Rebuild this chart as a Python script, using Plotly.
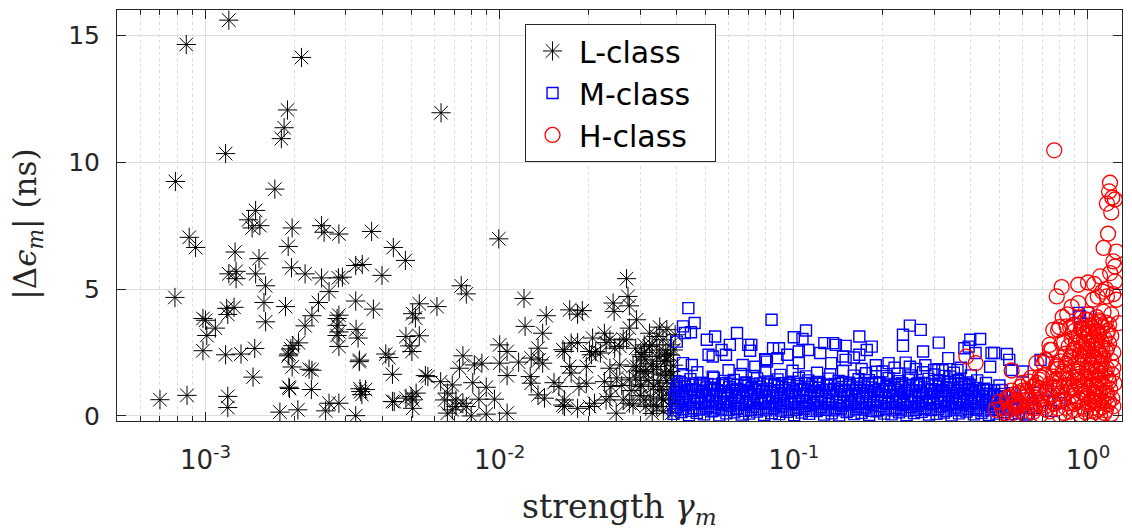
import plotly.graph_objects as go

# ---------------- data ----------------
L_points = [
    (1.2e-3, 15.6), (8.6e-4, 14.64), (2.12e-3, 14.13), (1.9e-3, 12.06), (1.85e-3, 11.36), (1.81e-3, 10.93),
    (1.17e-3, 10.34), (7.9e-4, 9.24), (1.72e-3, 8.94), (8.8e-4, 7.04), (9.25e-4, 6.64), (1.48e-3, 8.1),
    (1.4e-3, 7.73), (1.44e-3, 7.41), (1.53e-3, 7.5), (1.97e-3, 7.41), (1.91e-3, 6.68), (1.26e-3, 6.46),
    (1.52e-3, 6.2), (1.96e-3, 5.84), (1.2e-3, 5.6), (1.27e-3, 5.7), (1.27e-3, 5.41), (1.48e-3, 5.6),
    (1.6e-3, 5.13), (2.18e-3, 5.6), (2.48e-3, 5.44), (2.63e-3, 4.9), (2.83e-3, 5.44), (2.92e-3, 5.47),
    (2.48e-3, 7.5), (2.53e-3, 7.24), (2.84e-3, 7.17), (3.67e-3, 7.27), (3.24e-3, 5.93), (3.41e-3, 5.97),
    (3.98e-3, 5.54), (4.35e-3, 6.64), (7.87e-4, 4.67), (9.8e-4, 3.84), (1.0e-3, 3.77), (1.08e-3, 3.46),
    (1.01e-3, 3.17), (9.8e-4, 2.57), (1.17e-3, 2.41), (1.32e-3, 2.44), (1.47e-3, 2.66), (1.18e-3, 4.24),
    (1.25e-3, 4.28), (1.19e-3, 4.0), (1.58e-3, 4.47), (1.6e-3, 3.71), (1.87e-3, 4.31), (2.42e-3, 4.47),
    (2.3e-3, 3.95), (2.18e-3, 3.55), (1.45e-3, 1.53), (7.0e-4, 0.64), (8.65e-4, 0.81), (1.19e-3, 0.77),
    (1.19e-3, 0.33), (1.95e-3, 2.64), (1.98e-3, 2.77), (2.07e-3, 2.88), (1.91e-3, 2.37), (1.92e-3, 2.44),
    (1.97e-3, 1.93), (2.25e-3, 1.84), (2.3e-3, 1.8), (1.92e-3, 1.13), (1.93e-3, 1.08), (2.29e-3, 1.04),
    (1.79e-3, 0.15), (2.06e-3, 0.24), (2.56e-3, 0.2), (2.63e-3, 0.5), (2.84e-3, 0.5), (3.24e-3, 0.01),
    (2.8e-3, 3.84), (2.84e-3, 3.97), (2.8e-3, 3.57), (2.84e-3, 3.31), (2.8e-3, 3.17), (2.84e-3, 2.74),
    (3.24e-3, 4.53), (3.72e-3, 4.21), (3.25e-3, 3.41), (3.3e-3, 3.07), (3.34e-3, 2.2), (3.35e-3, 1.07),
    (3.4e-3, 0.84), (3.5e-3, 1.04), (4.1e-3, 2.44), (4.32e-3, 1.64), (4.32e-3, 0.57), (4.2e-3, 2.3),
    (4.78e-3, 6.13), (5.33e-3, 4.42), (6.12e-3, 4.31), (5.06e-3, 4.03), (5.17e-3, 3.86), (4.8e-3, 3.13),
    (5.33e-3, 3.16), (4.95e-3, 2.76), (5.03e-3, 2.54), (5.59e-3, 1.59), (5.7e-3, 1.55), (6.3e-3, 1.35),
    (6.9e-3, 1.22), (7.4e-3, 5.13), (7.7e-3, 4.81), (7.5e-3, 2.37), (7.3e-3, 1.88), (6.64e-3, 0.9),
    (6.5e-3, 0.63), (6.64e-3, 0.11), (6.9e-3, 0.24), (7.5e-3, 0.5), (7.1e-3, 0.63), (5.06e-3, 0.63),
    (5.2e-3, 0.9), (5.0e-3, 0.76), (4.38e-3, 0.56), (4.8e-3, 0.7), (5.06e-3, 0.3), (7.7e-3, 0.37),
    (3.33e-3, 2.14), (3.37e-3, 0.96), (6.32e-3, 11.95),
    (9.93e-3, 6.98), (1.21e-2, 4.63), (1.22e-2, 3.53), (1.44e-2, 3.95), (1.4e-2, 3.26), (1.0e-2, 2.8),
    (1.06e-2, 2.54), (1.0e-2, 2.08), (1.06e-2, 1.59), (8.2e-3, 2.01), (8.7e-3, 2.08), (1.16e-2, 2.12),
    (1.28e-2, 2.28), (1.35e-2, 2.67), (1.36e-2, 2.21), (1.4e-2, 2.08), (1.27e-2, 1.55), (1.28e-2, 1.29),
    (1.35e-2, 0.83), (1.42e-2, 0.7), (1.06e-2, 0.11), (9.0e-3, 0.07), (8.0e-3, 0.0), (8.1e-3, 1.31),
    (9.0e-3, 1.13), (9.6e-3, 0.66), (8.5e-3, 0.66), (7.1e-3, 0.37), (1.73e-2, 4.18), (1.84e-2, 4.01),
    (1.91e-2, 4.15), (2.43e-2, 4.45), (2.45e-2, 4.12), (2.7e-2, 5.41), (2.73e-2, 4.71), (2.76e-2, 4.34),
    (2.92e-2, 3.79), (2.76e-2, 3.46), (1.64e-2, 2.61), (1.75e-2, 2.87), (1.84e-2, 2.89), (2.07e-2, 3.07),
    (2.27e-2, 3.26), (2.3e-2, 2.89), (2.12e-2, 2.54), (2.05e-2, 2.41), (1.73e-2, 1.95), (1.75e-2, 1.69),
    (1.97e-2, 1.95), (2.37e-2, 1.88), (2.56e-2, 2.01), (2.56e-2, 2.74), (2.7e-2, 3.0), (1.53e-2, 1.31),
    (1.59e-2, 1.16), (1.86e-2, 1.16), (1.97e-2, 1.29), (2.27e-2, 1.35), (2.39e-2, 1.16), (2.76e-2, 1.42),
    (1.66e-2, 0.63), (1.66e-2, 0.37), (1.84e-2, 0.3), (2.02e-2, 0.37), (2.3e-2, 0.63), (2.49e-2, 0.11),
    (2.76e-2, 0.5), (3.14e-2, 0.37), (3.23e-2, 3.26), (3.42e-2, 3.13), (3.59e-2, 3.0), (3.23e-2, 2.74),
    (3.04e-2, 2.34), (3.67e-2, 2.48), (2.92e-2, 1.95), (3.14e-2, 1.69), (3.42e-2, 1.95), (3.67e-2, 1.69),
    (3.02e-2, 1.16), (3.33e-2, 1.16), (3.59e-2, 1.03), (3.85e-2, 0.63), (3.42e-2, 0.37), (3.85e-2, 0.11),
    (3.81e-2, 2.8), (1.66e-2, 2.54), (2.37e-2, 3.0), (2.63e-2, 3.03), (2.02e-2, 2.54), (2.2e-2, 2.48),
    (2.46e-2, 2.67), (2.9e-2, 2.67), (3.02e-2, 2.41), (3.14e-2, 2.21), (3.42e-2, 2.34), (3.63e-2, 2.14),
    (3.73e-2, 2.41), (2.84e-2, 1.95), (3.09e-2, 1.75), (3.33e-2, 1.82), (3.53e-2, 1.62), (3.81e-2, 1.75),
    (3.02e-2, 1.22), (3.49e-2, 1.03), (3.85e-2, 1.16), (1.64e-2, 0.43), (2.1e-2, 0.5), (2.37e-2, 0.76),
    (2.63e-2, 0.63), (2.84e-2, 0.43), (3.09e-2, 0.63), (3.33e-2, 0.43), (3.59e-2, 0.63), (3.81e-2, 0.37),
    (3.1e-2, 2.5), (3.3e-2, 2.8), (3.5e-2, 2.6), (3.7e-2, 2.2), (3.9e-2, 2.0), (3.2e-2, 1.4),
    (3.45e-2, 1.3), (3.7e-2, 1.4), (3.9e-2, 1.3), (3.0e-2, 0.8), (3.25e-2, 0.75), (3.55e-2, 0.7),
    (3.8e-2, 0.8), (3.95e-2, 0.5), (2.9e-2, 1.5), (2.8e-2, 1.0), (2.6e-2, 1.2), (2.5e-2, 1.5),
    (3.9e-2, 2.6), (3.95e-2, 3.2), (3.7e-2, 3.4), (3.5e-2, 3.5), (3.1e-2, 2.8), (3.0e-2, 1.8),
    (3.85e-2, 1.6), (3.6e-2, 0.2), (3.3e-2, 0.1), (3.95e-2, 0.9), (3.8e-2, 2.4), (3.3e-2, 2.05),
]

M_band_x_a = [0.039, 0.0415, 0.044, 0.0468, 0.0495, 0.0525, 0.0558, 0.059, 0.0627, 0.0665, 0.0705, 0.0748,
              0.0793, 0.0841, 0.0892, 0.0946, 0.1003, 0.1064, 0.1128, 0.1196, 0.1268, 0.1345, 0.1426, 0.1512,
              0.1603, 0.17, 0.1803, 0.1912, 0.2027, 0.215, 0.228, 0.2417, 0.2563, 0.2718, 0.2882, 0.3056,
              0.324, 0.3436, 0.3643, 0.3863, 0.4096, 0.4344, 0.4606, 0.4884, 0.518, 0.549, 0.582, 0.617]
M_band_y_a = [0.08, 0.15, 0.03, 0.12, 0.06, 0.18, 0.02, 0.1, 0.14, 0.05, 0.09, 0.17, 0.04, 0.11, 0.07, 0.16,
              0.03, 0.13, 0.08, 0.19, 0.05, 0.1, 0.02, 0.15, 0.07, 0.12, 0.04, 0.18, 0.09, 0.06, 0.14, 0.03,
              0.11, 0.16, 0.05, 0.08, 0.13, 0.02, 0.1, 0.17, 0.06, 0.12, 0.04, 0.09, 0.15, 0.07, 0.11, 0.05]
M_band_x_a2 = [0.0396, 0.0421, 0.0448, 0.0476, 0.0503, 0.0533, 0.0567, 0.06, 0.0637, 0.0676, 0.0716, 0.0759,
               0.0805, 0.0854, 0.0906, 0.096, 0.1018, 0.108, 0.1145, 0.1214, 0.1288, 0.1365, 0.1447, 0.1535,
               0.1628, 0.1725, 0.183, 0.194, 0.2057, 0.2182, 0.2314, 0.2453, 0.26, 0.2758, 0.2925, 0.31,
               0.329, 0.349, 0.37, 0.392, 0.416, 0.441, 0.467, 0.496, 0.526, 0.558]
M_band_y_a2 = [0.22, 0.27, 0.2, 0.25, 0.29, 0.21, 0.26, 0.23, 0.28, 0.2, 0.24, 0.27, 0.22, 0.29, 0.21, 0.25,
               0.23, 0.28, 0.2, 0.26, 0.24, 0.22, 0.29, 0.21, 0.27, 0.25, 0.2, 0.23, 0.28, 0.22, 0.26, 0.21,
               0.24, 0.29, 0.23, 0.27, 0.2, 0.25, 0.22, 0.28, 0.24, 0.21, 0.26, 0.23, 0.27, 0.22]
M_band_x_b = [0.0402, 0.0428, 0.0455, 0.0482, 0.051, 0.054, 0.0575, 0.0608, 0.0645, 0.0685, 0.0726, 0.077,
              0.0817, 0.0866, 0.0918, 0.0974, 0.1033, 0.1095, 0.1161, 0.1231, 0.1306, 0.1385, 0.1468, 0.1557,
              0.165, 0.175, 0.1856, 0.1968, 0.2087, 0.2213, 0.2346, 0.2488, 0.2638, 0.2797, 0.2966, 0.3145,
              0.3334, 0.3535, 0.3748, 0.3974, 0.4214, 0.4468, 0.4737, 0.5023, 0.533, 0.565, 0.6]
M_band_y_b = [0.35, 0.42, 0.3, 0.47, 0.38, 0.33, 0.45, 0.4, 0.29, 0.44, 0.36, 0.48, 0.31, 0.41, 0.37, 0.46,
              0.32, 0.39, 0.43, 0.34, 0.47, 0.3, 0.4, 0.45, 0.36, 0.33, 0.42, 0.38, 0.48, 0.31, 0.44, 0.35,
              0.4, 0.29, 0.46, 0.37, 0.41, 0.33, 0.45, 0.39, 0.3, 0.43, 0.36, 0.4, 0.34, 0.38, 0.32]
M_band_x_b2 = [0.0404, 0.043, 0.0457, 0.0485, 0.0513, 0.0543, 0.0578, 0.0611, 0.0648, 0.0688, 0.073, 0.0774,
               0.0821, 0.087, 0.0922, 0.0979, 0.1038, 0.11, 0.1167, 0.1237, 0.1312, 0.1392, 0.1475, 0.1565,
               0.1658, 0.1759, 0.1865, 0.1978, 0.2097, 0.2224, 0.2358, 0.25, 0.2651, 0.2811, 0.298, 0.316,
               0.335, 0.355, 0.3765, 0.399, 0.423, 0.449, 0.476, 0.505, 0.535]
M_band_y_b2 = [0.5, 0.54, 0.48, 0.52, 0.55, 0.49, 0.53, 0.51, 0.48, 0.55, 0.5, 0.52, 0.54, 0.49, 0.51,
               0.53, 0.48, 0.55, 0.5, 0.52, 0.49, 0.54, 0.51, 0.53, 0.48, 0.5, 0.55, 0.52, 0.49, 0.54,
               0.51, 0.53, 0.48, 0.5, 0.52, 0.55, 0.49, 0.51, 0.54, 0.48, 0.53, 0.5, 0.52, 0.49, 0.51]
M_band_x_c = [0.0394, 0.042, 0.0445, 0.0473, 0.05, 0.053, 0.0564, 0.0597, 0.0633, 0.0672, 0.0712, 0.0755,
              0.0801, 0.085, 0.0901, 0.0956, 0.1013, 0.1075, 0.114, 0.1208, 0.1281, 0.1358, 0.144, 0.1527,
              0.162, 0.1717, 0.1821, 0.1931, 0.2047, 0.2172, 0.2303, 0.2441, 0.2589, 0.2745, 0.2911, 0.3087,
              0.3272, 0.347, 0.368, 0.39, 0.414, 0.439, 0.465, 0.493, 0.523]
M_band_y_c = [0.6, 0.66, 0.56, 0.7, 0.62, 0.58, 0.68, 0.55, 0.64, 0.71, 0.59, 0.65, 0.57, 0.69, 0.61, 0.67,
              0.55, 0.63, 0.72, 0.58, 0.66, 0.6, 0.7, 0.56, 0.64, 0.68, 0.59, 0.62, 0.71, 0.57, 0.65, 0.6,
              0.69, 0.55, 0.63, 0.67, 0.58, 0.7, 0.61, 0.66, 0.56, 0.64, 0.6, 0.68, 0.58]
M_band_x_c2 = [0.0392, 0.0418, 0.0443, 0.047, 0.0498, 0.0528, 0.0561, 0.0594, 0.063, 0.0669, 0.0709, 0.0752,
               0.0797, 0.0846, 0.0897, 0.0951, 0.1008, 0.107, 0.1134, 0.1202, 0.1275, 0.1352, 0.1433, 0.152,
               0.1612, 0.171, 0.1812, 0.1921, 0.2037, 0.216, 0.229, 0.2428, 0.2575, 0.273, 0.2895, 0.307,
               0.3255, 0.345, 0.366, 0.388, 0.411, 0.436, 0.462, 0.49, 0.52]
M_band_y_c2 = [0.75, 0.78, 0.74, 0.77, 0.79, 0.76, 0.74, 0.78, 0.75, 0.77, 0.79, 0.74, 0.76, 0.78, 0.75,
               0.77, 0.74, 0.79, 0.76, 0.78, 0.75, 0.77, 0.74, 0.79, 0.76, 0.78, 0.75, 0.77, 0.74, 0.79,
               0.76, 0.78, 0.75, 0.77, 0.74, 0.79, 0.76, 0.78, 0.75, 0.77, 0.74, 0.79, 0.76, 0.78, 0.75]
M_band_x_d = [0.0406, 0.0432, 0.046, 0.0487, 0.0515, 0.0546, 0.058, 0.0614, 0.0652, 0.0692, 0.0733, 0.0778,
              0.0825, 0.0875, 0.0927, 0.0984, 0.1043, 0.1106, 0.1173, 0.1243, 0.1319, 0.1399, 0.1483, 0.1573,
              0.1667, 0.1768, 0.1875, 0.1988, 0.2108, 0.2235, 0.237, 0.2513, 0.2664, 0.2825, 0.2996, 0.3176,
              0.3367, 0.357, 0.3785, 0.4014, 0.4256, 0.451, 0.478, 0.507]
M_band_y_d = [0.85, 0.92, 0.8, 0.95, 0.88, 0.83, 0.97, 0.9, 0.81, 0.94, 0.86, 0.96, 0.82, 0.91, 0.87, 0.93,
              0.8, 0.89, 0.95, 0.84, 0.92, 0.86, 0.97, 0.81, 0.9, 0.88, 0.94, 0.83, 0.96, 0.85, 0.91, 0.8,
              0.93, 0.87, 0.89, 0.95, 0.82, 0.9, 0.86, 0.92, 0.84, 0.88, 0.83, 0.87]
M_band_x_d2 = [0.0408, 0.0434, 0.0462, 0.049, 0.0518, 0.0549, 0.0583, 0.0617, 0.0656, 0.0696, 0.0737, 0.0782,
               0.083, 0.088, 0.0932, 0.099, 0.1049, 0.1112, 0.118, 0.125, 0.1326, 0.1407, 0.1491, 0.1582,
               0.1676, 0.1778, 0.1885, 0.1999, 0.212, 0.2248, 0.2383, 0.2527, 0.268, 0.284, 0.301, 0.319,
               0.338, 0.359, 0.38, 0.403, 0.428, 0.454, 0.48, 0.51]
M_band_y_d2 = [1.0, 0.98, 1.02, 0.99, 1.03, 1.01, 0.98, 1.0, 1.02, 0.99, 1.03, 1.0, 0.98, 1.01, 1.02,
               0.99, 1.03, 1.0, 0.98, 1.01, 1.02, 0.99, 1.03, 1.0, 0.98, 1.01, 1.02, 0.99, 1.0, 1.03,
               0.98, 1.01, 1.0, 1.02, 0.99, 1.03, 0.98, 1.01, 1.0, 1.02, 0.99, 1.01, 1.0, 1.02]
M_band_x_e = [0.0398, 0.0424, 0.045, 0.0478, 0.0505, 0.0536, 0.057, 0.0603, 0.064, 0.0679, 0.0719, 0.0763,
              0.0809, 0.0858, 0.091, 0.0965, 0.1023, 0.1085, 0.115, 0.122, 0.1294, 0.1372, 0.1454, 0.1542,
              0.1635, 0.1734, 0.1839, 0.195, 0.2068, 0.2193, 0.2325, 0.2466, 0.2614, 0.2772, 0.294, 0.3117,
              0.3305, 0.3505, 0.3717, 0.394, 0.418, 0.443]
M_band_y_e = [1.1, 1.17, 1.05, 1.2, 1.12, 1.08, 1.22, 1.14, 1.06, 1.19, 1.1, 1.16, 1.07, 1.21, 1.13, 1.09,
              1.18, 1.05, 1.15, 1.11, 1.2, 1.07, 1.14, 1.22, 1.09, 1.16, 1.12, 1.06, 1.19, 1.1, 1.15, 1.08,
              1.21, 1.13, 1.05, 1.17, 1.11, 1.08, 1.14, 1.06, 1.1, 1.07]
M_band_x_e2 = [0.0401, 0.0427, 0.0454, 0.0481, 0.0508, 0.0539, 0.0573, 0.0606, 0.0643, 0.0683, 0.0723, 0.0767,
               0.0813, 0.0862, 0.0914, 0.097, 0.1028, 0.109, 0.1156, 0.1225, 0.13, 0.1378, 0.146, 0.1548,
               0.1642, 0.174, 0.1846, 0.1957, 0.2075, 0.22, 0.2333, 0.2474, 0.2622, 0.278, 0.295, 0.313,
               0.332, 0.352, 0.373, 0.396]
M_band_y_e2 = [1.25, 1.28, 1.23, 1.3, 1.26, 1.24, 1.29, 1.27, 1.23, 1.3, 1.25, 1.28, 1.24, 1.26, 1.29,
               1.23, 1.27, 1.3, 1.25, 1.28, 1.24, 1.26, 1.29, 1.23, 1.27, 1.3, 1.25, 1.28, 1.24, 1.26,
               1.29, 1.23, 1.27, 1.3, 1.25, 1.28, 1.24, 1.26, 1.29, 1.23]
M_band_x_f = [0.041, 0.0445, 0.049, 0.0535, 0.058, 0.0625, 0.069, 0.075, 0.0815, 0.088, 0.096, 0.104, 0.112,
              0.121, 0.131, 0.142, 0.154, 0.166, 0.18, 0.195, 0.21, 0.228, 0.246, 0.266, 0.287, 0.31, 0.335,
              0.362, 0.39]
M_band_y_f = [1.35, 1.45, 1.3, 1.5, 1.38, 1.42, 1.32, 1.48, 1.36, 1.44, 1.3, 1.5, 1.4, 1.34, 1.47, 1.38,
              1.31, 1.45, 1.41, 1.33, 1.49, 1.37, 1.43, 1.3, 1.46, 1.39, 1.34, 1.42, 1.32]
M_band_x_g = [0.042, 0.047, 0.053, 0.06, 0.066, 0.073, 0.08, 0.09, 0.099, 0.11, 0.12, 0.133, 0.147, 0.16,
              0.176, 0.19, 0.207, 0.225, 0.25, 0.275, 0.3, 0.325]
M_band_y_g = [1.6, 1.72, 1.55, 1.8, 1.65, 1.58, 1.75, 1.62, 1.78, 1.56, 1.7, 1.64, 1.77, 1.59, 1.68, 1.74,
              1.57, 1.66, 1.6, 1.72, 1.63, 1.58]
M_scatter = [
    (0.0438, 4.25), (0.046, 3.66), (0.042, 3.53), (0.0447, 3.3), (0.0426, 3.27), (0.040, 2.93), (0.0506, 3.0),
    (0.054, 3.13), (0.0641, 3.27), (0.0606, 2.8), (0.070, 2.8), (0.0513, 2.41), (0.0568, 2.6), (0.084, 3.79),
    (0.0717, 2.8), (0.071, 2.57), (0.0588, 2.41), (0.080, 2.24), (0.089, 2.67), (0.10, 3.1), (0.11, 3.37),
    (0.107, 3.03), (0.095, 2.41), (0.104, 2.54), (0.112, 2.6), (0.127, 2.87), (0.136, 2.87), (0.139, 2.8),
    (0.15, 2.76), (0.167, 3.13), (0.184, 2.73), (0.167, 2.41), (0.177, 2.6), (0.123, 2.48), (0.147, 2.34),
    (0.085, 2.67), (0.088, 2.28), (0.081, 2.14), (0.042, 2.08), (0.045, 2.01), (0.053, 2.34), (0.067, 2.01),
    (0.074, 1.94), (0.248, 3.56), (0.27, 3.39), (0.235, 3.2), (0.235, 2.76), (0.311, 2.89), (0.275, 2.54),
    (0.335, 2.28), (0.38, 2.67), (0.43, 3.03), (0.47, 2.48), (0.415, 2.48), (0.30, 1.81), (0.31, 1.84),
    (0.248, 1.94), (0.21, 2.08), (0.15, 2.21), (0.134, 2.08), (0.104, 2.08), (0.08, 2.21), (0.34, 1.55),
    (0.36, 1.81), (0.398, 3.0), (0.393, 2.73), (0.48, 2.48), (0.53, 2.44), (0.54, 2.21), (0.55, 1.81),
    (0.60, 1.75), (0.465, 1.94), (0.94, 3.92), (0.69, 2.21), (0.93, 4.06), (1.0, 4.06),
    (0.65, 0.3), (0.7, 0.6), (0.75, 0.2), (0.8, 0.5), (0.66, 0.9), (0.72, 1.0), (0.45, 1.3), (0.5, 1.2),
    (0.42, 1.4), (0.38, 1.25), (0.55, 0.9), (0.6, 0.4), (0.63, 0.1), (0.57, 0.7),
    (0.19, 2.0), (0.2, 1.75), (0.22, 1.9), (0.24, 2.1), (0.26, 1.85), (0.28, 2.0), (0.17, 1.85), (0.16, 2.3),
    (0.32, 1.8), (0.35, 1.7), (0.37, 1.9), (0.4, 1.6),
]

H_points = [
    (0.768, 10.47), (1.188, 9.19), (1.18, 8.85), (1.21, 8.6), (1.16, 8.37), (1.2, 8.02), (1.235, 8.53),
    (1.17, 7.18), (1.13, 6.62), (1.25, 6.48), (1.22, 6.09), (1.235, 5.89), (0.814, 5.08), (0.783, 4.71),
    (0.927, 5.17), (1.0, 5.26), (1.1, 5.5), (1.19, 5.63), (1.235, 5.3), (0.927, 4.45), (1.04, 4.58),
    (1.16, 4.71), (1.25, 4.58), (0.792, 3.39), (0.846, 3.53), (0.964, 3.39), (1.27, 3.66), (0.742, 2.6),
    (0.714, 2.21), (0.668, 2.08), (0.386, 2.34), (0.415, 2.08), (0.55, 1.79), (0.54, 0.74), (0.486, 0.24),
    (0.587, 0.5), (0.618, 0.9), (0.65, 1.15), (0.686, 1.55), (0.535, 0.7), (0.565, 0.36), (0.587, 0.43),
    (0.618, 0.63), (0.686, 1.42), (0.705, 2.08), (0.752, 2.6), (0.762, 3.39), (0.814, 2.87), (0.783, 1.94),
    (0.803, 1.15), (0.762, 0.5), (0.66, 0.3),
    (1.05, 5.2), (1.12, 4.9), (1.08, 4.7), (1.15, 5.0), (1.22, 4.8), (1.13, 4.1), (1.2, 4.0), (1.07, 3.9),
    (0.98, 3.8), (1.0, 4.0), (1.1, 3.7), (1.18, 3.6), (0.9, 3.6), (0.87, 3.5), (0.95, 3.4),
    (0.51, 0.3), (0.53, 0.7), (0.56, 0.5), (0.58, 0.9), (0.6, 0.2), (0.62, 1.0), (0.63, 0.6), (0.65, 0.15),
    (0.66, 1.2), (0.67, 0.5), (0.55, 1.0), (0.6, 1.3), (0.64, 1.5), (0.57, 0.05), (0.69, 0.4), (0.68, 0.9),
    (0.7, 1.5), (0.72, 2.2), (0.74, 2.8), (0.76, 1.1), (0.78, 2.0), (0.8, 3.5), (0.83, 2.9), (0.85, 4.0),
    (0.88, 4.3), (0.82, 3.9),
]
H_dense = [
    (0.69, 0.05), (0.74, 0.18), (0.80, 0.04), (0.87, 0.17), (0.94, 0.06), (0.98, 0.15), (1.02, 0.03),
    (1.06, 0.16), (1.1, 0.05), (1.14, 0.12), (1.2, 0.08), (0.52, 0.1), (0.61, 0.06),
    (0.71, 0.35), (0.77, 0.48), (0.84, 0.33), (0.9, 0.47), (0.96, 0.36), (1.0, 0.45), (1.04, 0.32),
    (1.08, 0.49), (1.12, 0.34), (1.17, 0.46), (1.22, 0.38), (0.55, 0.28), (0.64, 0.33),
    (0.69, 0.65), (0.75, 0.78), (0.82, 0.62), (0.88, 0.77), (0.93, 0.64), (0.99, 0.79), (1.03, 0.63),
    (1.07, 0.76), (1.11, 0.61), (1.16, 0.75), (1.21, 0.68), (0.57, 0.6), (0.66, 0.72),
    (0.72, 0.95), (0.78, 1.08), (0.85, 0.93), (0.91, 1.07), (0.95, 0.96), (1.01, 1.09), (1.05, 0.92),
    (1.09, 1.06), (1.13, 0.94), (1.19, 1.05), (0.6, 1.0), (0.68, 1.1),
    (0.74, 1.25), (0.8, 1.38), (0.86, 1.22), (0.92, 1.37), (0.97, 1.24), (1.0, 1.36), (1.04, 1.21),
    (1.08, 1.39), (1.12, 1.26), (1.18, 1.35), (1.23, 1.28), (0.67, 1.3),
    (0.76, 1.55), (0.83, 1.68), (0.89, 1.52), (0.94, 1.67), (0.98, 1.54), (1.02, 1.69), (1.06, 1.53),
    (1.1, 1.66), (1.15, 1.56), (1.21, 1.64), (0.71, 1.6),
    (0.79, 1.85), (0.85, 1.98), (0.9, 1.82), (0.95, 1.97), (0.99, 1.84), (1.03, 1.99), (1.07, 1.83),
    (1.11, 1.96), (1.16, 1.87), (1.22, 1.9),
    (0.81, 2.15), (0.87, 2.28), (0.92, 2.12), (0.96, 2.27), (1.0, 2.14), (1.05, 2.29), (1.09, 2.13),
    (1.13, 2.26), (1.2, 2.18),
    (0.84, 2.45), (0.89, 2.58), (0.94, 2.42), (0.98, 2.57), (1.02, 2.44), (1.06, 2.59), (1.1, 2.43),
    (1.15, 2.56), (1.22, 2.5),
    (0.86, 2.75), (0.91, 2.88), (0.95, 2.72), (0.99, 2.87), (1.03, 2.74), (1.07, 2.89), (1.12, 2.73),
    (1.18, 2.85),
    (0.88, 3.05), (0.93, 3.18), (0.97, 3.02), (1.01, 3.17), (1.05, 3.04), (1.09, 3.19), (1.14, 3.03),
    (1.2, 3.15),
    (0.9, 3.35), (0.96, 3.48), (1.0, 3.32), (1.04, 3.47), (1.08, 3.34), (1.12, 3.49), (1.17, 3.36),
    (0.95, 3.65), (1.0, 3.78), (1.05, 3.62), (1.09, 3.77), (1.15, 3.68),
    (0.72, 0.25), (0.79, 0.3), (0.83, 0.12), (0.9, 0.22), (0.97, 0.28), (1.03, 0.2), (1.09, 0.26),
    (1.15, 0.22), (0.7, 0.5), (0.8, 0.58), (0.86, 0.5), (0.92, 0.55), (1.01, 0.55), (1.06, 0.6),
    (1.13, 0.55), (1.18, 0.58), (0.74, 0.85), (0.81, 0.88), (0.89, 0.82), (0.97, 0.87), (1.05, 0.83),
    (1.1, 0.88), (1.16, 0.9), (0.77, 1.15), (0.83, 1.2), (0.88, 1.12), (0.94, 1.18), (1.02, 1.2),
    (1.07, 1.15), (1.14, 1.17), (0.78, 1.45), (0.86, 1.46), (0.93, 1.44), (1.01, 1.47), (1.09, 1.45),
    (1.17, 1.47), (0.82, 1.75), (0.92, 1.74), (1.0, 1.77), (1.08, 1.76), (1.14, 1.78), (0.84, 2.05),
    (0.93, 2.04), (1.02, 2.06), (1.11, 2.05), (0.88, 2.35), (0.97, 2.36), (1.04, 2.35), (1.12, 2.37),
    (0.9, 2.65), (1.0, 2.65), (1.08, 2.66), (1.16, 2.64), (0.94, 2.95), (1.03, 2.96), (1.11, 2.94),
    (0.98, 3.25), (1.07, 3.26), (1.16, 3.24), (1.02, 3.56), (1.11, 3.57),
    (0.5, 0.55), (0.53, 0.2), (0.58, 0.35), (0.62, 0.8), (0.56, 0.85), (0.59, 1.15), (0.63, 1.35),
    (0.65, 0.45), (0.54, 0.05),
]

series_names = ["L-class", "M-class", "H-class"]
x_tick_vals = [1e-3, 1e-2, 1e-1, 1]
x_tick_text = ["10<sup>-3</sup>", "10<sup>-2</sup>", "10<sup>-1</sup>", "10<sup>0</sup>"]
x_minor_vals = [m * 10 ** e for e in (-4, -3, -2, -1) for m in range(2, 10)]
y_tick_vals = [0, 5, 10, 15]

# ---------------- assemble ----------------
Lx = [p[0] for p in L_points]
Ly = [p[1] for p in L_points]

Mx = (M_band_x_a + M_band_x_a2 + M_band_x_b + M_band_x_b2 + M_band_x_c + M_band_x_c2 + M_band_x_d
      + M_band_x_d2 + M_band_x_e + M_band_x_e2 + M_band_x_f + M_band_x_g + [p[0] for p in M_scatter])
My = (M_band_y_a + M_band_y_a2 + M_band_y_b + M_band_y_b2 + M_band_y_c + M_band_y_c2 + M_band_y_d
      + M_band_y_d2 + M_band_y_e + M_band_y_e2 + M_band_y_f + M_band_y_g + [p[1] for p in M_scatter])

Hx = [p[0] for p in H_points + H_dense]
Hy = [p[1] for p in H_points + H_dense]

AX = "#262626"
PAD = "\u00a0\u00a0"
fig = go.Figure()
fig.add_trace(go.Scatter(x=Lx, y=Ly, mode="markers", name=series_names[0] + PAD,
                         marker=dict(symbol="asterisk-open", size=16, color="black",
                                     line=dict(color="black", width=1))))
fig.add_trace(go.Scatter(x=Mx, y=My, mode="markers", name=series_names[1] + PAD,
                         marker=dict(symbol="square-open", size=11, color="#0000ff",
                                     line=dict(color="#0000ff", width=1.4))))
fig.add_trace(go.Scatter(x=Hx, y=Hy, mode="markers", name=series_names[2] + PAD,
                         marker=dict(symbol="circle-open", size=15, color="#ff0000",
                                     line=dict(color="#ff0000", width=1.3))))

fig.update_layout(
    width=1132, height=532,
    margin=dict(l=117, r=10, t=10, b=111),
    paper_bgcolor="white", plot_bgcolor="white",
    font=dict(family="DejaVu Sans", color=AX),
    showlegend=True,
    legend=dict(x=0.406, y=0.966, xanchor="left", yanchor="top",
                bgcolor="white", bordercolor=AX, borderwidth=1,
                font=dict(family="DejaVu Sans", size=30, color="black"),
                itemsizing="trace", itemwidth=43),
    xaxis=dict(type="log", range=[-3.301, 0.1157],
               tickmode="array", tickvals=x_tick_vals, ticktext=x_tick_text,
               tickfont=dict(size=26, color=AX), ticks="inside", ticklen=9, tickcolor=AX,
               ticklabelstandoff=16,
               showline=True, linecolor=AX, linewidth=1, mirror="allticks",
               showgrid=True, gridcolor="#dedede", gridwidth=1, zeroline=False,
               minor=dict(tickmode="array", tickvals=x_minor_vals, ticks="inside", ticklen=5,
                          tickcolor=AX, showgrid=True, gridcolor="#dcdcdc", griddash="dot",
                          gridwidth=1)),
    yaxis=dict(range=[-0.2, 16], tickmode="array", tickvals=y_tick_vals,
               tickfont=dict(size=25, color=AX), ticks="inside", ticklen=9, tickcolor=AX,
               ticklabelstandoff=11,
               showline=True, linecolor=AX, linewidth=1, mirror="allticks",
               showgrid=True, gridcolor="#dedede", gridwidth=1, zeroline=False),
    annotations=[
        dict(text="strength <i>γ<sub>m</sub></i>", xref="paper", yref="paper",
             x=0.5, y=-0.212, xanchor="center", yanchor="middle", showarrow=False,
             font=dict(family="DejaVu Serif", size=33, color=AX)),
        dict(text="|Δ<i>ϵ<sub>m</sub></i>| (ns)", xref="paper", yref="paper",
             x=-0.0886, y=0.48, xanchor="center", yanchor="middle", showarrow=False,
             textangle=-90, font=dict(family="DejaVu Serif", size=31, color=AX)),
    ],
)

fig.write_html("out.html")
